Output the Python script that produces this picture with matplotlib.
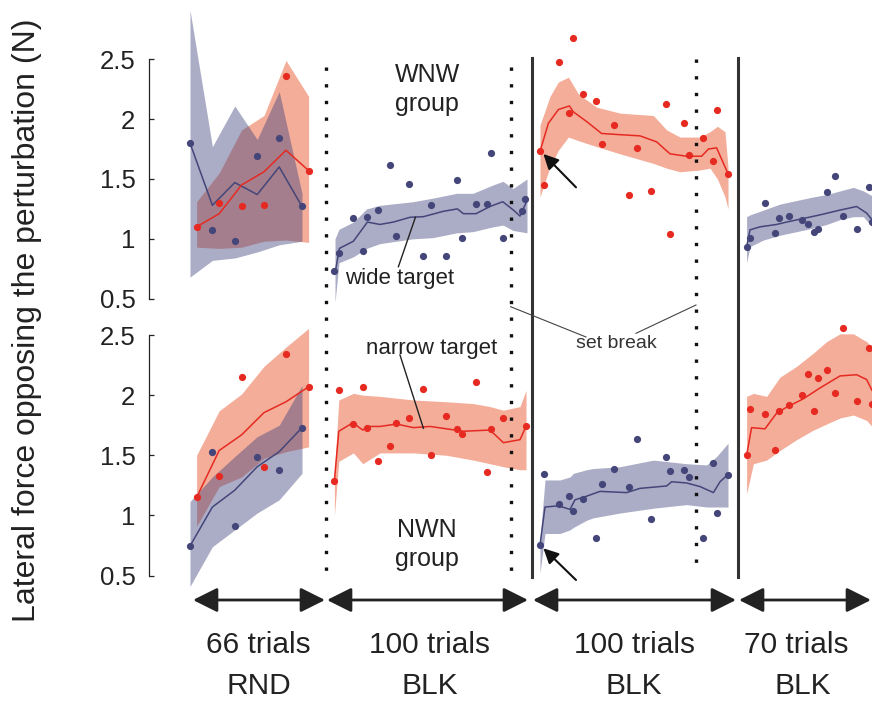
# force profile of the WNW / NWN groups, redrawn from the figure
import matplotlib
matplotlib.use('Agg')
from matplotlib import pyplot as plt

plt.rcParams['font.family'] = ['Liberation Sans', 'DejaVu Sans']

# ---- data (x = trial position on a common axis, y = force in N) ----
rnd_blue_x = [0, 11.2, 22.4, 33.6, 44.6, 56]
rnd_red_x = [3.3, 14.6, 25.8, 37, 48, 59.3]

# WNW group, random block
wnw_rnd_blue_pts = [1.80, 1.07, 0.98, 1.69, 1.845, 1.27]
wnw_rnd_blue_mean = [1.80, 1.28, 1.47, 1.37, 1.60, 1.27]
wnw_rnd_blue_hi = [2.91, 1.77, 2.11, 1.83, 2.23, 1.38]
wnw_rnd_blue_lo = [0.68, 0.82, 0.84, 0.89, 0.95, 0.98]
wnw_rnd_red_pts = [1.10, 1.30, 1.27, 1.285, 2.36, 1.57]
wnw_rnd_red_mean = [1.10, 1.21, 1.45, 1.56, 1.74, 1.57]
wnw_rnd_red_hi = [1.31, 1.55, 1.91, 2.03, 2.49, 2.19]
wnw_rnd_red_lo = [0.93, 0.92, 0.93, 0.98, 0.99, 0.97]

# NWN group, random block
nwn_rnd_blue_pts = [0.746, 1.525, 0.91, 1.49, 1.38, 1.73]
nwn_rnd_blue_mean = [0.746, 1.07, 1.21, 1.405, 1.53, 1.73]
nwn_rnd_blue_hi = [1.115, 1.32, 1.49, 1.655, 1.75, 2.08]
nwn_rnd_blue_lo = [0.41, 0.74, 0.88, 1.02, 1.13, 1.35]
nwn_rnd_red_pts = [1.15, 1.33, 2.15, 1.405, 2.34, 2.07]
nwn_rnd_red_mean = [1.15, 1.54, 1.67, 1.855, 1.945, 2.07]
nwn_rnd_red_hi = [1.50, 1.87, 2.01, 2.24, 2.40, 2.555]
nwn_rnd_red_lo = [0.91, 1.24, 1.32, 1.475, 1.53, 1.57]

# block 2 (first 100 trials BLK)
wnw_b2_pts_x = [72.2, 74.4, 81.4, 86.4, 88.7, 93.9, 100, 103, 109.4, 116.7, 120.7,
                127.9, 133.7, 136, 143, 148.4, 150.4, 156.4, 165.9, 167.5]
wnw_b2_pts = [0.73, 0.88, 1.17, 0.90, 1.185, 1.24, 1.62, 1.02, 1.46, 0.86, 1.28,
              0.86, 1.49, 1.01, 1.29, 1.29, 1.72, 1.01, 1.23, 1.33]
wnw_b2_line_x = [72.7, 74.7, 81.7, 88.7, 95, 101.7, 110, 116.7, 126.7, 133.7, 136.7,
                 143, 150, 156.4, 161.7, 165, 168]
wnw_b2_line = [0.73, 0.92, 0.98, 1.14, 1.12, 1.14, 1.18, 1.185, 1.23, 1.25, 1.21,
               1.21, 1.27, 1.31, 1.24, 1.19, 1.30]
wnw_b2_band_x = [72.5, 74.5, 81.7, 88.3, 95, 111.5, 121.5, 133.3, 141.5, 151.5, 156.5, 161.5, 168.5]
wnw_b2_hi = [1.00, 1.08, 1.14, 1.25, 1.28, 1.31, 1.34, 1.38, 1.38, 1.45, 1.48, 1.42, 1.50]
wnw_b2_lo = [0.47, 0.80, 0.85, 0.92, 0.96, 1.00, 1.01, 1.05, 1.06, 1.10, 1.115, 1.07, 1.05]

nwn_b2_pts_x = [72.2, 74.4, 81.4, 86.4, 88.7, 93.9, 100, 103, 109.4, 116.7, 120.7,
                127.9, 133.7, 136, 143, 148.4, 150.4, 156.4, 168]
nwn_b2_pts = [1.29, 2.04, 1.76, 2.065, 1.73, 1.45, 1.58, 1.77, 1.81, 2.05, 1.50,
              1.83, 1.72, 1.675, 2.11, 1.36, 1.72, 1.81, 1.74]
nwn_b2_line_x = [72.2, 74.4, 81.4, 86.4, 88.7, 95, 103.3, 111.7, 120, 128.3, 136.7, 150, 156.7, 165, 168]
nwn_b2_line = [1.29, 1.70, 1.77, 1.71, 1.74, 1.74, 1.76, 1.73, 1.74, 1.72, 1.70, 1.71, 1.605, 1.63, 1.74]
nwn_b2_band_x = [72.2, 74.4, 81.7, 86.4, 95, 111.7, 128.3, 141.7, 150, 156.7, 165, 168]
nwn_b2_hi = [1.35, 1.96, 2.015, 2.0, 1.99, 1.96, 1.945, 1.93, 1.905, 1.875, 1.905, 2.04]
nwn_b2_lo = [1.00, 1.45, 1.52, 1.43, 1.52, 1.52, 1.50, 1.46, 1.43, 1.405, 1.38, 1.38]

# block 3 (second 100 trials BLK)
b3_pts_x = [175, 177, 184.3, 189.7, 191.3, 196.7, 203, 206, 212.2, 219.3, 223.3,
            230.7, 237.8, 240, 247.2, 249.3, 256.3, 261.7, 263.7, 269]
wnw_b3_pts = [1.73, 1.45, 2.48, 2.05, 2.68, 2.21, 2.15, 1.79, 1.95, 1.37, 1.76,
              1.40, 2.13, 1.04, 1.965, 1.70, 1.84, 1.65, 2.08, 1.545]
wnw_b3_line_x = [175, 179.2, 184.2, 189.7, 191.7, 198.3, 205.8, 215, 225, 233.3, 240,
                 248.3, 255.8, 259.2, 263.3, 269]
wnw_b3_line = [1.73, 1.965, 2.08, 2.11, 2.06, 1.98, 1.88, 1.87, 1.86, 1.81, 1.71,
               1.69, 1.69, 1.75, 1.76, 1.545]
wnw_b3_band_x = [175, 180, 184.2, 189.2, 194.2, 203.3, 215, 231.7, 238.3, 245, 255, 260, 263.7, 267.5, 269]
wnw_b3_hi = [1.95, 2.19, 2.31, 2.35, 2.21, 2.10, 2.05, 2.03, 1.91, 1.85, 1.85, 1.895, 1.94, 1.895, 1.60]
wnw_b3_lo = [1.35, 1.60, 1.74, 1.85, 1.82, 1.77, 1.71, 1.63, 1.59, 1.56, 1.575, 1.59, 1.50, 1.35, 1.25]

nwn_b3_pts = [0.755, 1.345, 1.095, 1.165, 1.04, 1.14, 0.815, 1.26, 1.39, 1.24, 1.635,
              0.97, 1.49, 1.37, 1.38, 1.32, 0.81, 1.44, 1.02, 1.34]
nwn_b3_line_x = [175, 177.5, 184.3, 190, 192.5, 198.3, 205, 218.3, 225, 238.3, 240.8,
                 248.3, 255, 261.7, 265, 269]
nwn_b3_line = [0.755, 1.07, 1.08, 1.05, 1.13, 1.16, 1.20, 1.19, 1.225, 1.245, 1.28,
               1.27, 1.24, 1.19, 1.28, 1.34]
nwn_b3_band_x = [175, 177.5, 185, 190, 191.7, 198.3, 201.7, 215, 231.7, 248.3, 258.3, 263.3, 269]
nwn_b3_hi = [0.80, 1.295, 1.295, 1.32, 1.35, 1.38, 1.39, 1.405, 1.46, 1.43, 1.42, 1.49, 1.60]
nwn_b3_lo = [0.52, 0.85, 0.85, 0.88, 0.90, 0.96, 0.98, 1.02, 1.06, 1.09, 1.07, 1.07, 1.07]

# block 4 (70 trials BLK)
b4_pts_x = [278.3, 280, 287.3, 292.3, 294.7, 299.7, 306, 309, 312, 314.2, 318.3,
            322.3, 326.3, 333.7, 339.7, 341]
wnw_b4_pts = [0.93, 1.01, 1.30, 1.05, 1.17, 1.19, 1.16, 1.12, 1.055, 1.08, 1.39,
              1.525, 1.19, 1.08, 1.435, 1.14]
wnw_b4_line_x = [278.3, 280, 285, 293.3, 298.3, 306.7, 315, 325, 333.3, 338.3, 341]
wnw_b4_line = [0.93, 1.075, 1.10, 1.12, 1.14, 1.17, 1.20, 1.24, 1.27, 1.215, 1.16]
wnw_b4_band_x = [278.3, 280, 286.7, 295, 303.3, 311.7, 318.3, 325, 331.7, 336.7, 341]
wnw_b4_hi = [1.185, 1.20, 1.24, 1.29, 1.32, 1.35, 1.37, 1.40, 1.43, 1.40, 1.36]
wnw_b4_lo = [0.80, 0.935, 0.99, 1.03, 1.06, 1.09, 1.12, 1.16, 1.185, 1.185, 1.10]

nwn_b4_pts = [1.50, 1.885, 1.84, 1.54, 1.865, 1.92, 2.005, 2.18, 1.865, 2.14, 2.21,
              2.02, 2.56, 1.95, 2.39, 1.93]
nwn_b4_line_x = [278.3, 280.8, 287.5, 293.3, 298.3, 306.7, 315, 325, 333.3, 338.3, 341]
nwn_b4_line = [1.50, 1.73, 1.72, 1.85, 1.90, 1.97, 2.06, 2.16, 2.17, 2.13, 2.04]
nwn_b4_band_x = [278.3, 281.7, 288.3, 295, 303.3, 311.7, 318.3, 325, 331.7, 338.3, 341]
nwn_b4_hi = [1.99, 2.015, 1.99, 2.15, 2.24, 2.35, 2.445, 2.51, 2.51, 2.445, 2.40]
nwn_b4_lo = [1.18, 1.43, 1.46, 1.54, 1.63, 1.71, 1.76, 1.81, 1.835, 1.79, 1.74]

yticks = [0.5, 1, 1.5, 2, 2.5]
ytick_labels = ['0.5', '1', '1.5', '2', '2.5']

block_spans = [(1.5, 67.5), (68.5, 169), (171.5, 273), (274.5, 340.5)]
block_top = ['66 trials', '100 trials', '100 trials', '70 trials']
block_bottom = ['RND', 'BLK', 'BLK', 'BLK']
dotted_t = [68.0, 160.3, 253.0]
solid_t = [170.8, 274.0]

BLUE = '#44467a'
BLUE_BAND = '#41437d'
RED = '#e62a22'
RED_BAND = '#e8623c'
INK = '#222222'


def draw(ax, color, band_x, hi, lo, line_x, line_y, pts_x, pts_y):
    if color == 'blue':
        ax.fill_between(band_x, lo, hi, color=BLUE_BAND, alpha=0.44, lw=0, zorder=2)
        ax.plot(line_x, line_y, color=BLUE, lw=1.1, zorder=3)
        ax.plot(pts_x, pts_y, 'o', color=BLUE, ms=5.2, mew=0, zorder=4)
    else:
        ax.fill_between(band_x, lo, hi, color=RED_BAND, alpha=0.52, lw=0, zorder=1)
        ax.plot(line_x, line_y, color=RED, lw=1.1, zorder=3)
        ax.plot(pts_x, pts_y, 'o', color=RED, ms=5.2, mew=0, zorder=4)


fig = plt.figure(figsize=(8.72, 7.01), dpi=100)
L = 149.3 / 872
ax_top = fig.add_axes([L, 0.5478, 1 - L, 0.4522])
ax_bot = fig.add_axes([L, 0.15835, 1 - L, 0.38944])
ov = fig.add_axes([L, 0, 1 - L, 1])
xlim = (-20.35, 341)

for ax, ylim in ((ax_top, (0.347, 2.995)), (ax_bot, (0.380, 2.650))):
    ax.set_xlim(xlim)
    ax.set_ylim(ylim)
    for s in ['top', 'right', 'bottom']:
        ax.spines[s].set_visible(False)
    ax.spines['left'].set_bounds(0.5, 2.5)
    ax.spines['left'].set_color(INK)
    ax.spines['left'].set_linewidth(0.9)
    ax.set_xticks([])
    ax.set_yticks(yticks)
    ax.set_yticklabels(ytick_labels)
    ax.tick_params(axis='y', direction='in', length=3.6, width=0.9, pad=10,
                   labelsize=18.5, colors=INK)
    ax.patch.set_visible(False)

# WNW
draw(ax_top, 'blue', rnd_blue_x, wnw_rnd_blue_hi, wnw_rnd_blue_lo,
     rnd_blue_x, wnw_rnd_blue_mean, rnd_blue_x, wnw_rnd_blue_pts)
draw(ax_top, 'red', rnd_red_x, wnw_rnd_red_hi, wnw_rnd_red_lo,
     rnd_red_x, wnw_rnd_red_mean, rnd_red_x, wnw_rnd_red_pts)
draw(ax_top, 'blue', wnw_b2_band_x, wnw_b2_hi, wnw_b2_lo,
     wnw_b2_line_x, wnw_b2_line, wnw_b2_pts_x, wnw_b2_pts)
draw(ax_top, 'red', wnw_b3_band_x, wnw_b3_hi, wnw_b3_lo,
     wnw_b3_line_x, wnw_b3_line, b3_pts_x, wnw_b3_pts)
draw(ax_top, 'blue', wnw_b4_band_x, wnw_b4_hi, wnw_b4_lo,
     wnw_b4_line_x, wnw_b4_line, b4_pts_x, wnw_b4_pts)

# NWN
draw(ax_bot, 'blue', rnd_blue_x, nwn_rnd_blue_hi, nwn_rnd_blue_lo,
     rnd_blue_x, nwn_rnd_blue_mean, rnd_blue_x, nwn_rnd_blue_pts)
draw(ax_bot, 'red', rnd_red_x, nwn_rnd_red_hi, nwn_rnd_red_lo,
     rnd_red_x, nwn_rnd_red_mean, rnd_red_x, nwn_rnd_red_pts)
draw(ax_bot, 'red', nwn_b2_band_x, nwn_b2_hi, nwn_b2_lo,
     nwn_b2_line_x, nwn_b2_line, nwn_b2_pts_x, nwn_b2_pts)
draw(ax_bot, 'blue', nwn_b3_band_x, nwn_b3_hi, nwn_b3_lo,
     nwn_b3_line_x, nwn_b3_line, b3_pts_x, nwn_b3_pts)
draw(ax_bot, 'red', nwn_b4_band_x, nwn_b4_hi, nwn_b4_lo,
     nwn_b4_line_x, nwn_b4_line, b4_pts_x, nwn_b4_pts)

# overlay in trial units (x) and pixel rows (y) for separators and labels
ov.set_xlim(xlim)
ov.set_ylim(701, 0)
ov.axis('off')

dot_y = [(67, 577), (67, 577), (59, 567)]
for t, (y0, y1) in zip(dotted_t, dot_y):
    ov.plot([t, t], [y0, y1], color='#111111', lw=2.4, ls=(0, (1, 4)),
            dash_capstyle='butt')
for t in solid_t:
    ov.plot([t, t], [58, 577], color='#333333', lw=2.2)

for (a, b) in block_spans:
    ov.annotate('', xy=(b, 600), xytext=(a, 600),
                arrowprops=dict(arrowstyle='<|-|>,head_length=0.5,head_width=0.25',
                                mutation_scale=30, lw=2.0, color=INK,
                                shrinkA=0, shrinkB=0))
top_x = [34.2, 119.7, 222.3, 303.0]
bot_x = [34.5, 120.0, 222.0, 306.5]
for x0, x1, top, bot in zip(top_x, bot_x, block_top, block_bottom):
    ov.text(x0, 653, top, ha='center', va='baseline', fontsize=21.5, color=INK)
    ov.text(x1, 694, bot, ha='center', va='baseline', fontsize=21.5, color=INK)

ov.text(118.75, 81.7, 'WNW', ha='center', va='baseline', fontsize=18, color=INK)
ov.text(118.5, 110.5, 'group', ha='center', va='baseline', fontsize=18, color=INK)
ov.text(118.3, 536.7, 'NWN', ha='center', va='baseline', fontsize=18, color=INK)
ov.text(118.3, 566.0, 'group', ha='center', va='baseline', fontsize=18, color=INK)

ov.text(105.0, 284, 'wide target', ha='center', va='baseline', fontsize=16, color=INK)
ov.plot([104.2, 112.7], [266.7, 217.3], color=INK, lw=1.0)
ov.text(120.7, 354, 'narrow target', ha='center', va='baseline', fontsize=16, color=INK)
ov.plot([105.0, 116.7], [355, 428.3], color=INK, lw=1.0)
ov.text(213.0, 348.5, 'set break', ha='center', va='baseline', fontsize=14, color='#333333')
ov.plot([198.0, 160.3], [337, 306.7], color='#444444', lw=0.8)
ov.plot([223.0, 253.0], [333.3, 305], color='#444444', lw=0.8)

for y_tip, y_tail in ((154, 187.3), (548.3, 580)):
    ov.annotate('', xy=(176.7, y_tip), xytext=(193, y_tail),
                arrowprops=dict(arrowstyle='-|>,head_length=0.6,head_width=0.3',
                                mutation_scale=15, lw=1.5, color='#111111',
                                shrinkA=0, shrinkB=0))

fig.text(27 / 872, 1 - 320 / 701, 'Lateral force opposing the perturbation (N)',
         rotation=90, ha='center', va='center', fontsize=23, color=INK)

fig.savefig('out.png', dpi=100)
